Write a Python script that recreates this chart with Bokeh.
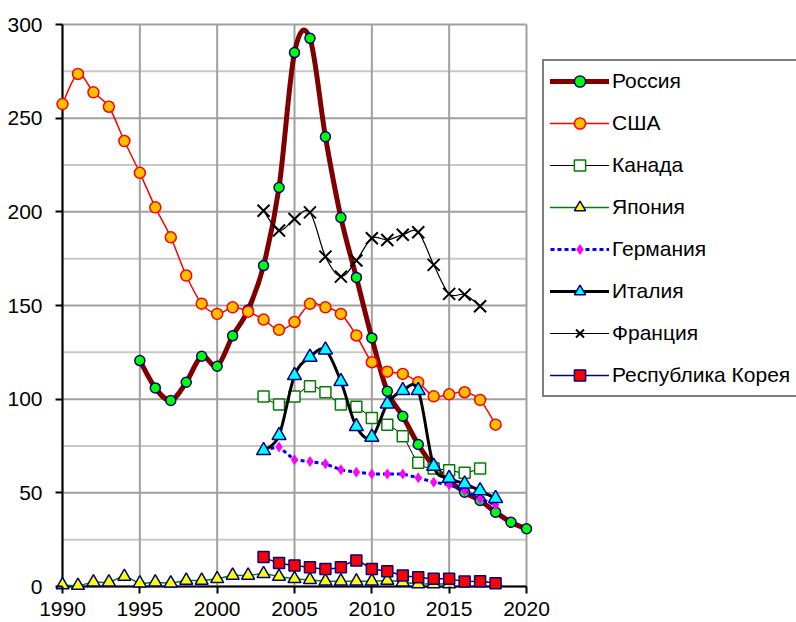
import numpy as np
from bokeh.plotting import figure
from bokeh.models import Range1d, FixedTicker, Legend, LegendItem
from bokeh.embed import file_html
from bokeh.resources import INLINE

# ---- data ----
years_russia = list(range(1995, 2021))
russia = [120.6, 106, 99.3, 109, 122.9, 117.6, 133.8, 147.6, 171.3, 213, 285, 292.6,
          240.1, 197, 165, 132.7, 104.2, 90.9, 75.8, 64.2, 56.5, 50.3, 45.9, 39.7, 34.3, 30.8]

years_usa = list(range(1990, 2019))
usa = [257.5, 273.6, 263.8, 256.1, 237.8, 220.8, 202.4, 186.4, 166, 151,
       145.5, 149, 146.7, 142.5, 137, 141.2, 150.9, 149, 145.5, 134,
       119.7, 114.7, 113.5, 109, 101.5, 102.6, 103.7, 99.6, 86.4]

years_canada = list(range(2003, 2018))
canada = [101.4, 97.1, 101.4, 106.9, 103.7, 97.1, 96, 90, 86.4, 80.2, 66, 63, 62.1, 60.7, 63]

years_japan = list(range(1990, 2016))
japan = [0.8, 0.5, 2.3, 2.3, 5.3, 1.8, 2.3, 1.8, 3.2, 3.2, 4.1, 5.9, 5.9, 6.8, 5.3,
         4.1, 3.6, 2.8, 2.8, 2.8, 2.8, 3.2, 2.3, 1.4, 1.4, 1.4]

years_germany = list(range(2003, 2019))
germany = [73, 74.5, 67.6, 66.7, 65.5, 62.3, 61, 60.1, 60.1, 60.1, 58, 55.7, 54.3, 51.2, 46.8, 43.6]

years_italy = list(range(2003, 2019))
italy = [72.6, 80.6, 112.6, 122.4, 126.3, 109.4, 85.4, 79.7, 97.5, 104.6, 104.6,
         64.2, 57.8, 54.8, 51.2, 47]

years_france = list(range(2003, 2018))
france = [200.6, 190, 196.2, 199.7, 176.1, 165.4, 174, 185.9, 185, 187.8, 189.1,
          171.7, 156.2, 155.8, 149.6]

years_korea = list(range(2003, 2019))
korea = [15.7, 12.5, 11.2, 10.3, 9.4, 10.3, 13.9, 9.4, 8.2, 5.9, 5, 4.1, 4.1, 2.7, 2.8, 1.8]

x_ticks = [1990, 1995, 2000, 2005, 2010, 2015, 2020]
y_ticks = [0, 50, 100, 150, 200, 250, 300]
y_minor = [25, 75, 125, 175, 225, 275]

FONT = "Liberation Sans"
x_lo, x_hi = x_ticks[0], x_ticks[-1]
y_lo, y_hi = y_ticks[0], y_ticks[-1]

# plot-area geometry (pixels)
PLOT_W, PLOT_H, PAD = 464, 562, 7
XPAD = PAD * (x_hi - x_lo) / PLOT_W
YPAD = PAD * (y_hi - y_lo) / PLOT_H

p = figure(frame_width=PLOT_W + 2 * PAD, frame_height=PLOT_H + 2 * PAD,
           output_backend="svg", toolbar_location=None,
           x_range=Range1d(x_lo - XPAD, x_hi + XPAD), y_range=Range1d(y_lo - YPAD, y_hi + YPAD),
           min_border_left=55, min_border_top=17, min_border_right=262, min_border_bottom=5)
p.background_fill_color = "white"
p.border_fill_color = "white"
p.outline_line_color = None
p.xgrid.visible = False
p.ygrid.visible = False

# grid lines and plot-area border drawn from the tick lists
p.segment(x0=[x_lo] * len(y_minor), y0=y_minor, x1=[x_hi] * len(y_minor), y1=y_minor,
          line_color="#c8c8c8", line_width=2, level="underlay")
p.segment(x0=[x_lo] * len(y_ticks), y0=y_ticks, x1=[x_hi] * len(y_ticks), y1=y_ticks,
          line_color="#a0a0a0", line_width=2, level="underlay")
p.segment(x0=x_ticks, y0=[y_lo] * len(x_ticks), x1=x_ticks, y1=[y_hi] * len(x_ticks),
          line_color="#a0a0a0", line_width=2, level="underlay")
# black axis lines
p.segment(x0=[x_lo, x_lo], y0=[y_lo, y_lo], x1=[x_hi, x_lo], y1=[y_lo, y_hi],
          line_color="black", line_width=2, level="underlay")

p.xaxis.ticker = FixedTicker(ticks=x_ticks)
p.yaxis.ticker = FixedTicker(ticks=y_ticks, minor_ticks=y_minor)
for ax in (p.xaxis[0], p.yaxis[0]):
    ax.axis_line_color = None
    ax.major_tick_line_color = "black"
    ax.major_tick_line_width = 2
    ax.major_tick_in = PAD
    ax.major_tick_out = 0
    ax.minor_tick_line_color = None
    ax.major_label_text_font = FONT
    ax.major_label_text_font_size = "21px"
    ax.major_label_text_color = "black"
p.yaxis.major_label_standoff = 9
p.xaxis.major_label_standoff = 8


def smooth_line(xs, ys, **kw):
    """Smoothed line through the data points (spreadsheet-style smoothing)."""
    x = np.asarray(xs, float)
    y = np.asarray(ys, float)
    n = len(x)
    xp = np.concatenate([[x[0]], x, [x[-1]]])
    yp = np.concatenate([[y[0]], y, [y[-1]]])
    cx0 = x[:-1] + (xp[2:n + 1] - xp[0:n - 1]) / 6
    cy0 = y[:-1] + (yp[2:n + 1] - yp[0:n - 1]) / 6
    cx1 = x[1:] - (xp[3:n + 2] - xp[1:n]) / 6
    cy1 = y[1:] - (yp[3:n + 2] - yp[1:n]) / 6
    return p.bezier(x0=x[:-1], y0=y[:-1], x1=x[1:], y1=y[1:],
                    cx0=cx0, cy0=cy0, cx1=cx1, cy1=cy1, line_cap="round", **kw)


items = []

r1 = smooth_line(years_russia, russia, line_color="#800000", line_width=5)
r2 = p.scatter(years_russia, russia, marker="circle", size=10, fill_color="#00ff00",
               line_color="#000080", line_width=1.5)
items.append(LegendItem(label="Россия", renderers=[r1, r2]))

r1 = smooth_line(years_usa, usa, line_color="#ff0000", line_width=1.5)
r2 = p.scatter(years_usa, usa, marker="circle", size=11, fill_color="#ffc000",
               line_color="#ff0000", line_width=1.5)
items.append(LegendItem(label="США", renderers=[r1, r2]))

r1 = smooth_line(years_canada, canada, line_color="black", line_width=1)
r2 = p.scatter(years_canada, canada, marker="square", size=11, fill_color="white",
               line_color="#008000", line_width=1.5)
items.append(LegendItem(label="Канада", renderers=[r1, r2]))

r1 = smooth_line(years_japan, japan, line_color="#008000", line_width=1.5)
r2 = p.scatter(years_japan, japan, marker="triangle", size=13, fill_color="#ffff00",
               line_color="#000080", line_width=1.5)
items.append(LegendItem(label="Япония", renderers=[r1, r2]))

r1 = p.line(years_germany, germany, line_color="#0000ff", line_width=3, line_dash="4 3")
r2 = p.scatter(years_germany, germany, marker="diamond", size=11, fill_color="#ff00ff",
               line_color="#ff00ff", line_width=0)
items.append(LegendItem(label="Германия", renderers=[r1, r2]))

r1 = smooth_line(years_italy, italy, line_color="black", line_width=3)
r2 = p.scatter(years_italy, italy, marker="triangle", size=14, fill_color="#00ffff",
               line_color="#000080", line_width=1.5)
items.append(LegendItem(label="Италия", renderers=[r1, r2]))

r1 = smooth_line(years_france, france, line_color="black", line_width=1.2)
r2 = p.scatter(years_france, france, marker="x", size=17, line_color="black", line_width=2)
items.append(LegendItem(label="Франция", renderers=[r1, r2]))

r1 = smooth_line(years_korea, korea, line_color="#000080", line_width=1.5)
r2 = p.scatter(years_korea, korea, marker="square", size=11, fill_color="#ff0000",
               line_color="#000080", line_width=1.5)
items.append(LegendItem(label="Республика Корея", renderers=[r1, r2]))

legend = Legend(items=items, location=(9, 196))
legend.label_text_font = FONT
legend.label_text_font_size = "21px"
legend.label_text_color = "black"
legend.glyph_width = 59
legend.glyph_height = 28
legend.label_height = 28
legend.label_standoff = 3
legend.spacing = 14
legend.padding = 6
legend.margin = 0
legend.border_line_color = "black"
legend.border_line_width = 2
legend.background_fill_color = "white"
legend.background_fill_alpha = 1
p.add_layout(legend, "right")

open("out.html", "w").write(file_html(p, INLINE))
